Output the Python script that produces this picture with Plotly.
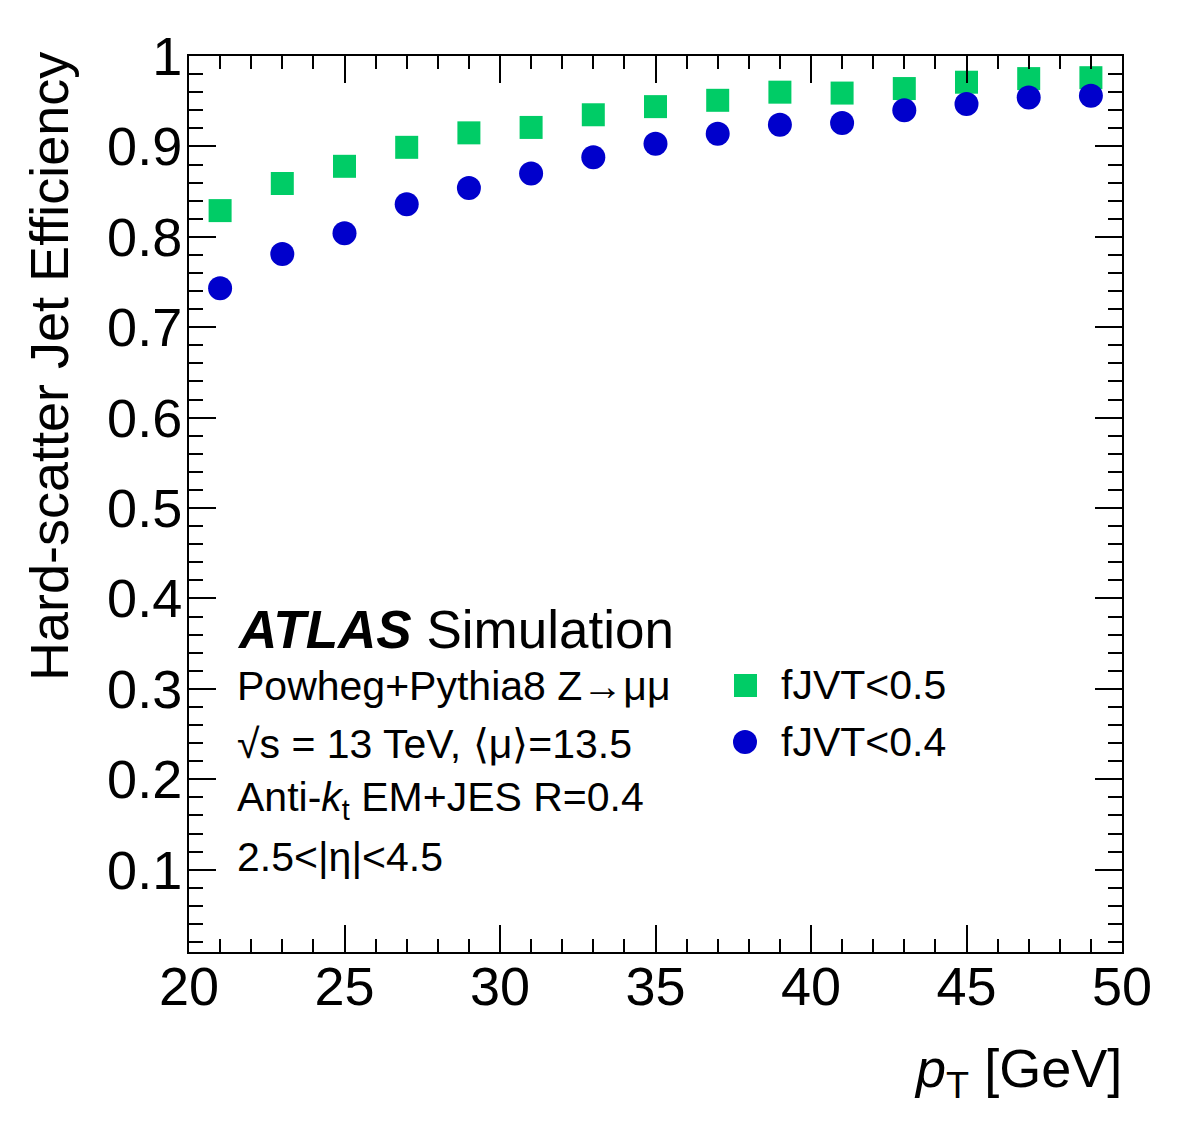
import plotly.graph_objects as go

# ---- data ----
pt = [21, 23, 25, 27, 29, 31, 33, 35, 37, 39, 41, 43, 45, 47, 49]
eff_fjvt05 = [0.829, 0.859, 0.878, 0.899, 0.915, 0.921, 0.935, 0.944, 0.951, 0.960, 0.959, 0.964, 0.971, 0.975, 0.976]
eff_fjvt04 = [0.743, 0.781, 0.804, 0.836, 0.854, 0.870, 0.888, 0.903, 0.914, 0.924, 0.926, 0.940, 0.947, 0.954, 0.956]
series_names = ["fJVT&lt;0.5", "fJVT&lt;0.4"]
info_lines = [
    "Powheg+Pythia8 Z→μμ",
    "√s = 13 TeV, ⟨μ⟩=13.5",
    "Anti-<i>k</i><sub>t</sub> EM+JES R=0.4",
    "2.5&lt;|η|&lt;4.5",
]

GREEN = "rgb(0,204,102)"
BLUE = "rgb(0,0,204)"
FONT = "Liberation Sans, Arial, Helvetica, sans-serif"

W, H = 1182, 1134
L, R, T, B = 189, 1122, 56, 952  # plot area in pixels


def px(x):
    return (x - L) / (R - L)


def py(y):
    return (B - y) / (B - T)


fig = go.Figure()
fig.add_trace(go.Scatter(x=pt, y=eff_fjvt05, mode="markers", name=series_names[0],
                         marker=dict(symbol="square", size=23, color=GREEN, line=dict(width=0)),
                         showlegend=False))
fig.add_trace(go.Scatter(x=pt, y=eff_fjvt04, mode="markers", name=series_names[1],
                         marker=dict(symbol="circle", size=24, color=BLUE, line=dict(width=0)),
                         showlegend=False))

axis_common = dict(
    showline=True, linecolor="black", linewidth=2, mirror="ticks",
    ticks="inside", tickcolor="black", tickwidth=2, ticklen=27,
    showgrid=False, zeroline=False,
    tickfont=dict(family=FONT, size=54, color="black"),
)

fig.update_xaxes(range=[20, 50], tick0=20, dtick=5,
                 minor=dict(ticks="inside", ticklen=13, tickwidth=2, tickcolor="black", dtick=1, showgrid=False),
                 ticklabelstandoff=-14, **axis_common)
fig.update_yaxes(range=[0.009, 1.0], tick0=0, dtick=0.1,
                 minor=dict(ticks="inside", ticklen=14, tickwidth=2, tickcolor="black", dtick=0.02, showgrid=False),
                 ticklabelstandoff=-6, **axis_common)

annotations = []
# axis titles
annotations.append(dict(text="Hard-scatter Jet Efficiency", x=px(49), y=py(367), xref="paper", yref="paper",
                        textangle=-90, showarrow=False, xanchor="center", yanchor="middle",
                        font=dict(family=FONT, size=54, color="black")))
annotations.append(dict(text="<i>p</i><sub>T</sub> [GeV]", x=px(1124), y=py(1072), xref="paper", yref="paper",
                        showarrow=False, xanchor="right", yanchor="middle",
                        font=dict(family=FONT, size=54, color="black")))
# ATLAS label
annotations.append(dict(text="<b><i>ATLAS</i></b> Simulation", x=px(235), y=py(629), xref="paper", yref="paper",
                        showarrow=False, xanchor="left", yanchor="middle",
                        font=dict(family=FONT, size=53, color="black")))
line_y = [686, 744, 800, 857]
for txt, yy in zip(info_lines, line_y):
    annotations.append(dict(text=txt, x=px(235), y=py(yy), xref="paper", yref="paper",
                            showarrow=False, xanchor="left", yanchor="middle",
                            font=dict(family=FONT, size=41, color="black")))
# legend
leg_y = [685, 742]
for txt, yy in zip(series_names, leg_y):
    annotations.append(dict(text=txt, x=px(779), y=py(yy), xref="paper", yref="paper",
                            showarrow=False, xanchor="left", yanchor="middle",
                            font=dict(family=FONT, size=41, color="black")))

shapes = [
    dict(type="rect", xref="paper", yref="paper", x0=px(734), x1=px(757), y0=py(697), y1=py(674),
         fillcolor=GREEN, line=dict(width=0)),
    dict(type="circle", xref="paper", yref="paper", x0=px(733), x1=px(757), y0=py(754), y1=py(730),
         fillcolor=BLUE, line=dict(width=0)),
]

fig.update_layout(
    width=W, height=H,
    margin=dict(l=L, r=W - R, t=T, b=H - B, autoexpand=False),
    paper_bgcolor="white", plot_bgcolor="white",
    annotations=annotations, shapes=shapes,
    showlegend=False,
)

fig.write_html("out.html")
